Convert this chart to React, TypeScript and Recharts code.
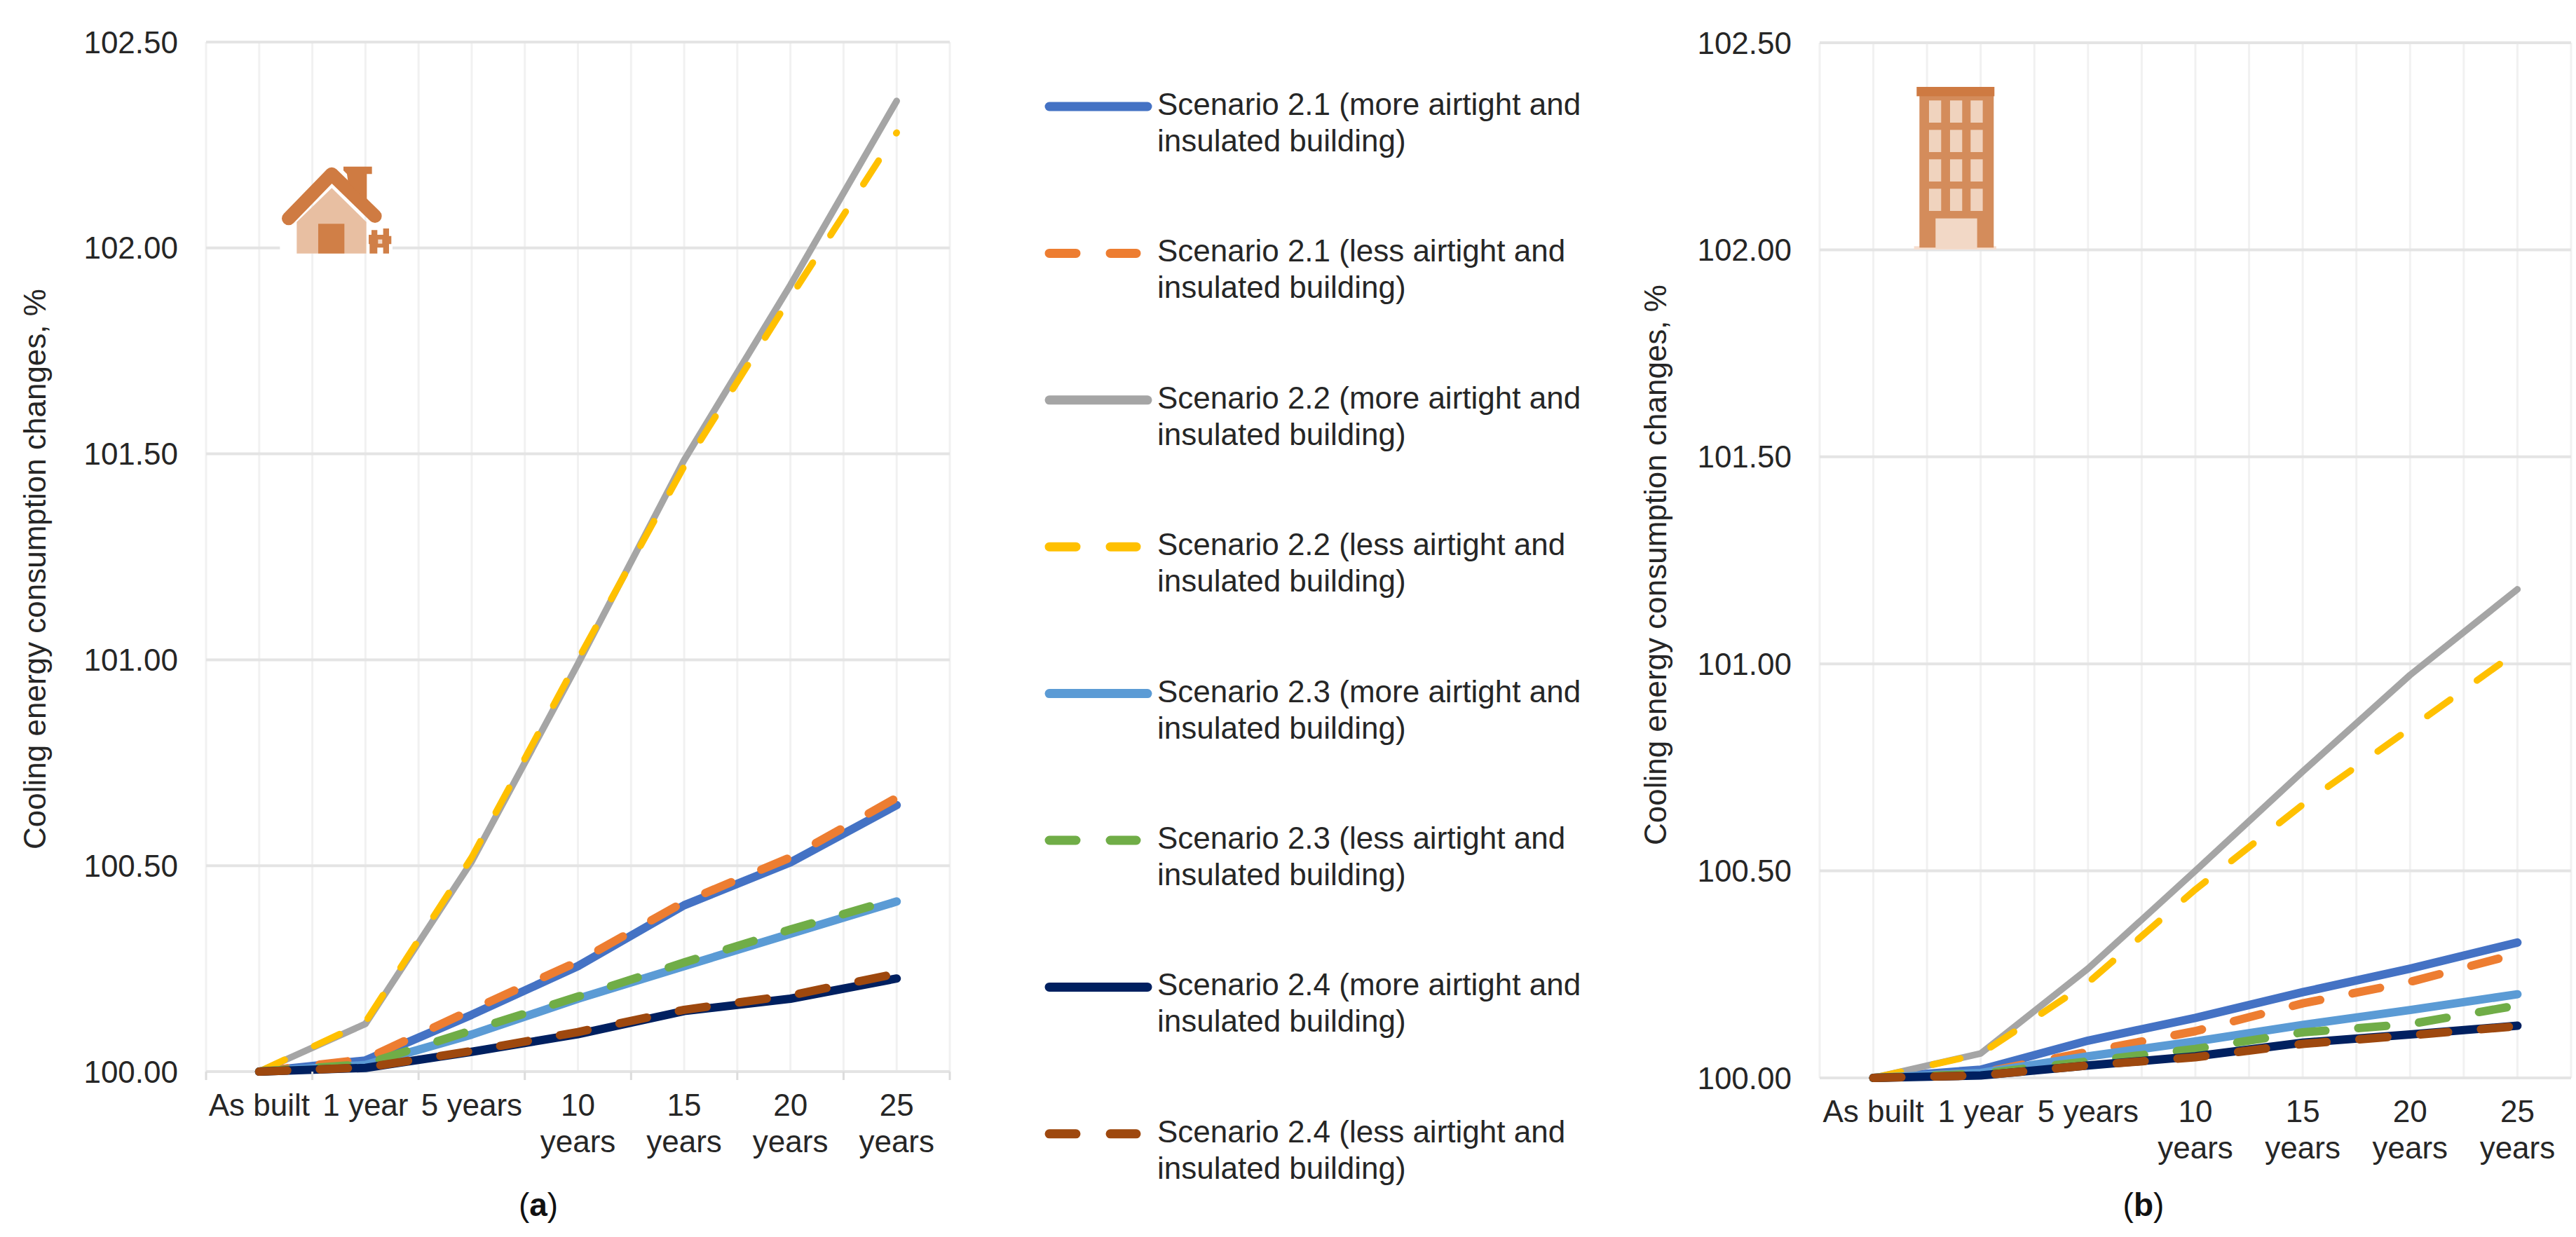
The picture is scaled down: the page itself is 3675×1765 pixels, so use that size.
import { CartesianGrid, Line, LineChart, XAxis, YAxis } from "recharts";

const FONT = '"Liberation Sans", Arial, sans-serif';
const TEXT_COLOR = "#262626";

const categories = ["As built", "1 year", "5 years", "10 years", "15 years", "20 years", "25 years"];
const yTicks = [100, 100.5, 101, 101.5, 102, 102.5];

const seriesNames = [
  "Scenario 2.1 (more airtight and",
  "Scenario 2.1 (less airtight and",
  "Scenario 2.2 (more airtight and",
  "Scenario 2.2 (less airtight and",
  "Scenario 2.3 (more airtight and",
  "Scenario 2.3 (less airtight and",
  "Scenario 2.4 (more airtight and",
  "Scenario 2.4 (less airtight and",
];
const seriesColors = ["#4472C4", "#ED7D31", "#A5A5A5", "#FFC000", "#5B9BD5", "#70AD47", "#002060", "#9E480E"];
const seriesWidths = [12, 12, 9.5, 9.5, 12, 12, 12, 12];

// panel (a), one list per scenario, in legend order
const a21More = [100, 100.027, 100.138, 100.256, 100.404, 100.508, 100.647];
const a21Less = [100, 100.03, 100.15, 100.267, 100.412, 100.52, 100.665];
const a22More = [100, 100.116, 100.51, 100.99, 101.485, 101.91, 102.357];
const a22Less = [100, 100.12, 100.52, 101.0, 101.47, 101.88, 102.28];
const a23More = [100, 100.016, 100.09, 100.177, 100.256, 100.335, 100.413];
const a23Less = [100, 100.018, 100.1, 100.182, 100.265, 100.345, 100.42];
const a24More = [100, 100.009, 100.048, 100.091, 100.147, 100.177, 100.226];
const a24Less = [100, 100.01, 100.05, 100.096, 100.15, 100.185, 100.238];
const panelASeries = [a21More, a21Less, a22More, a22Less, a23More, a23Less, a24More, a24Less];

// panel (b)
const b21More = [100, 100.02, 100.09, 100.145, 100.207, 100.264, 100.327];
const b21Less = [100, 100.012, 100.063, 100.113, 100.18, 100.232, 100.3];
const b22More = [100, 100.059, 100.264, 100.5, 100.74, 100.973, 101.18];
const b22Less = [100, 100.058, 100.23, 100.455, 100.66, 100.844, 101.03];
const b23More = [100, 100.012, 100.052, 100.088, 100.128, 100.164, 100.202];
const b23Less = [100, 100.01, 100.04, 100.07, 100.11, 100.13, 100.175];
const b24More = [100, 100.006, 100.03, 100.052, 100.085, 100.105, 100.126];
const b24Less = [100, 100.006, 100.03, 100.05, 100.082, 100.103, 100.125];
const panelBSeries = [b21More, b21Less, b22More, b22Less, b23More, b23Less, b24More, b24Less];

function buildRows(series: number[][]) {
  return categories.map((name, i) => {
    const row: Record<string, string | number> = { name };
    series.forEach((values, s) => {
      row[`s${s}`] = values[i];
    });
    return row;
  });
}

function CategoryTick({ x, y, payload, index, bandWidth, showMarks }: any) {
  const lines = /^\d\d /.test(payload.value) ? payload.value.split(" ") : [payload.value];
  const markTop = y - 8;
  return (
    <g>
      {showMarks && (
        <line x1={x - bandWidth / 2} x2={x - bandWidth / 2} y1={markTop} y2={markTop + 12} stroke="#dcdcdc" strokeWidth={3} />
      )}
      {showMarks && index === categories.length - 1 && (
        <line x1={x + bandWidth / 2} x2={x + bandWidth / 2} y1={markTop} y2={markTop + 12} stroke="#dcdcdc" strokeWidth={3} />
      )}
      <text x={x} y={y + 55} textAnchor="middle" fontFamily={FONT} fontSize={44} fill={TEXT_COLOR}>
        {lines.map((line: string, i: number) => (
          <tspan key={line} x={x} dy={i === 0 ? 0 : 52}>
            {line}
          </tspan>
        ))}
      </text>
    </g>
  );
}

interface PanelProps {
  series: number[][];
  left: number;
  width: number;
  plotLeft: number;
  plotRight: number;
  plotTop: number;
  plotBottom: number;
  titleX: number;
  titleY: number;
  showMarks: boolean;
  dash: string;
}

function Panel({ series, left, width, plotLeft, plotRight, plotTop, plotBottom, titleX, titleY, showMarks, dash }: PanelProps) {
  const axisWidth = plotLeft - left;
  const bandWidth = (plotRight - plotLeft) / categories.length;
  return (
    <div style={{ position: "absolute", left, top: 0 }}>
      <LineChart
        width={width}
        height={1765}
        data={buildRows(series)}
        margin={{ top: plotTop, right: left + width - plotRight, bottom: 0, left: 0 }}
      >
        <CartesianGrid horizontal={false} stroke="#f1f1f1" strokeWidth={3} verticalCoordinatesGenerator={({ offset }: any) =>
          Array.from({ length: 15 }, (_, i) => offset.left + (i * offset.width) / 14)
        } />
        <CartesianGrid vertical={false} stroke="#e4e4e4" strokeWidth={4} />
        <XAxis
          dataKey="name"
          interval={0}
          height={1765 - plotBottom}
          padding={{ left: bandWidth / 2, right: bandWidth / 2 }}
          axisLine={false}
          tickLine={false}
          tick={<CategoryTick bandWidth={bandWidth} showMarks={showMarks} />}
        />
        <YAxis
          type="number"
          domain={[100, 102.5]}
          ticks={yTicks}
          width={axisWidth}
          axisLine={false}
          tickLine={false}
          tickSize={0}
          tickMargin={40}
          tickFormatter={(v: number) => v.toFixed(2)}
          tick={{ fontFamily: FONT, fontSize: 44, fill: TEXT_COLOR }}
          label={{
            content: () => (
              <text
                x={titleX - left}
                y={titleY}
                transform={`rotate(-90 ${titleX - left} ${titleY})`}
                textAnchor="middle"
                dominantBaseline="central"
                fontFamily={FONT}
                fontSize={44}
                fill={TEXT_COLOR}
              >
                Cooling energy consumption changes, %
              </text>
            ),
          }}
        />
        {seriesColors.map((color, s) => (
          <Line
            key={s}
            type="linear"
            dataKey={`s${s}`}
            stroke={color}
            strokeWidth={seriesWidths[s]}
            strokeLinecap="round"
            strokeLinejoin="round"
            strokeDasharray={s % 2 === 1 ? dash : undefined}
            dot={false}
            activeDot={false}
            isAnimationActive={false}
          />
        ))}
      </LineChart>
    </div>
  );
}

function ScenarioLegend() {
  return (
    <svg width={3675} height={1765} style={{ position: "absolute", left: 0, top: 0, pointerEvents: "none" }}>
      {seriesNames.map((name, i) => {
        const y = 152 + i * 209.4;
        return (
          <g key={i}>
            <line
              x1={1497}
              x2={i % 2 === 1 ? 1621 : 1637}
              y1={y}
              y2={y}
              stroke={seriesColors[i]}
              strokeWidth={13}
              strokeLinecap="round"
              strokeDasharray={i % 2 === 1 ? "38 49" : undefined}
            />
            <text x={1651} y={y + 12} fontFamily={FONT} fontSize={44} fill={TEXT_COLOR}>
              {name}
            </text>
            <text x={1651} y={y + 64} fontFamily={FONT} fontSize={44} fill={TEXT_COLOR}>
              insulated building)
            </text>
          </g>
        );
      })}
    </svg>
  );
}

function HouseIcon() {
  return (
    <g transform="translate(340 200) scale(0.3333)">
      <rect x={178} y={440} width={482} height={45} fill="#fff" />
      <path d="M250 485V350L400 205L548 350V485Z" fill="#E8BFA2" />
      <polyline points="215,335 400,145 585,325" fill="none" stroke="#CF7B42" strokeWidth={58} strokeLinecap="round" strokeLinejoin="round" />
      <path d="M450 113H572V145H550V262L470 180L465 145L450 130Z" fill="#CF7B42" />
      <rect x={342} y={358} width={112} height={127} fill="#D07F47" />
      <path d="M570 385H595V405H620V378H645V410H655V445H645V485H620V460H595V485H562V445H558V405H570Z" fill="#D07F47" />
      <rect x={598} y={425} width={18} height={18} fill="#F4DCCB" />
    </g>
  );
}

const windowColumns = [456, 546, 634];
const windowRows = [250, 376, 502, 628];

function BuildingIcon() {
  return (
    <g transform="translate(2600 60) scale(0.3333)">
      <rect x={392} y={874} width={352} height={14} fill="#F6DECF" />
      <rect x={415} y={230} width={318} height={650} fill="#D48C5B" />
      <rect x={403} y={192} width={333} height={40} fill="#CE7A42" />
      {windowRows.map((wy) =>
        windowColumns.map((wx) => <rect key={`${wx}-${wy}`} x={wx} y={wy} width={52} height={95} fill="#F0D3BE" />)
      )}
      <rect x={484} y={755} width={178} height={130} fill="#F2D8C6" />
    </g>
  );
}

export default function App() {
  return (
    <div style={{ position: "absolute", left: 0, top: 0, width: 3675, height: 1765, background: "#fff", overflow: "hidden" }}>
      <Panel
        series={panelASeries}
        left={0}
        width={1400}
        plotLeft={294}
        plotRight={1355}
        plotTop={60}
        plotBottom={1529}
        titleX={49}
        titleY={812}
        showMarks
        dash="40 46.6"
      />
      <Panel
        series={panelBSeries}
        left={2300}
        width={1375}
        plotLeft={2596}
        plotRight={3668}
        plotTop={61}
        plotBottom={1538}
        titleX={2361}
        titleY={806}
        showMarks={false}
        dash="40 47"
      />
      <ScenarioLegend />
      <svg width={3675} height={1765} style={{ position: "absolute", left: 0, top: 0, pointerEvents: "none" }}>
        <HouseIcon />
        <BuildingIcon />
        <text x={768} y={1735} textAnchor="middle" fontFamily={FONT} fontSize={46} fill="#111">
          (<tspan fontWeight="bold">a</tspan>)
        </text>
        <text x={3058} y={1735} textAnchor="middle" fontFamily={FONT} fontSize={46} fill="#111">
          (<tspan fontWeight="bold">b</tspan>)
        </text>
      </svg>
    </div>
  );
}
